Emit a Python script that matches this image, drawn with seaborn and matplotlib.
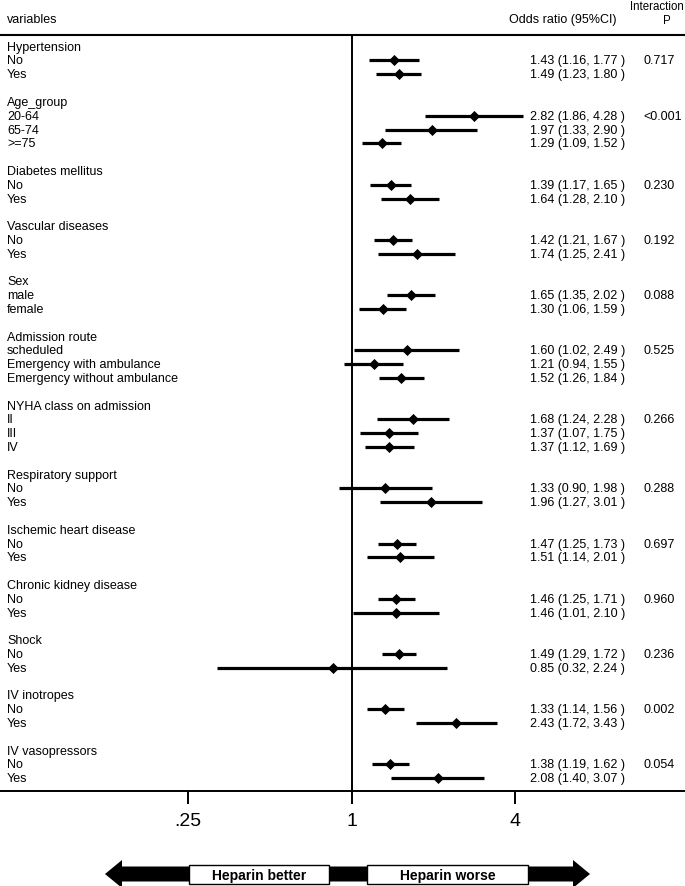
import numpy as np
import pandas as pd
import matplotlib.pyplot as plt
import seaborn as sns
from matplotlib import transforms
from matplotlib.patches import FancyArrow, Rectangle

# Datos del forest plot (subgrupos, OR e IC95%)
group_names = ['Hypertension', 'Age_group', 'Diabetes mellitus', 'Vascular diseases', 'Sex',
               'Admission route', 'NYHA class on admission', 'Respiratory support',
               'Ischemic heart disease', 'Chronic kidney disease', 'Shock', 'IV inotropes',
               'IV vasopressors']
level_names = [['No', 'Yes'], ['20-64', '65-74', '>=75'], ['No', 'Yes'], ['No', 'Yes'],
               ['male', 'female'],
               ['scheduled', 'Emergency with ambulance', 'Emergency without ambulance'],
               ['II', 'III', 'IV'], ['No', 'Yes'], ['No', 'Yes'], ['No', 'Yes'], ['No', 'Yes'],
               ['No', 'Yes'], ['No', 'Yes']]
odds_ratio = [[1.43, 1.49], [2.82, 1.97, 1.29], [1.39, 1.64], [1.42, 1.74], [1.65, 1.30],
              [1.60, 1.21, 1.52], [1.68, 1.37, 1.37], [1.33, 1.96], [1.47, 1.51], [1.46, 1.46],
              [1.49, 0.85], [1.33, 2.43], [1.38, 2.08]]
ci_low = [[1.16, 1.23], [1.86, 1.33, 1.09], [1.17, 1.28], [1.21, 1.25], [1.35, 1.06],
          [1.02, 0.94, 1.26], [1.24, 1.07, 1.12], [0.90, 1.27], [1.25, 1.14], [1.25, 1.01],
          [1.29, 0.32], [1.14, 1.72], [1.19, 1.40]]
ci_high = [[1.77, 1.80], [4.28, 2.90, 1.52], [1.65, 2.10], [1.67, 2.41], [2.02, 1.59],
           [2.49, 1.55, 1.84], [2.28, 1.75, 1.69], [1.98, 3.01], [1.73, 2.01], [1.71, 2.10],
           [1.72, 2.24], [1.56, 3.43], [1.62, 3.07]]
p_interaction = ['0.717', '<0.001', '0.230', '0.192', '0.088', '0.525', '0.266', '0.288',
                 '0.697', '0.960', '0.236', '0.002', '0.054']
x_ticks = [0.25, 1, 4]
x_tick_labels = ['.25', '1', '4']

# Construir tabla con una fila por nivel
rows = []
titles = []
r = 0
for g, name in enumerate(group_names):
    titles.append((r, name, p_interaction[g]))
    for k, lvl in enumerate(level_names[g]):
        rows.append({'row': r + 1 + k, 'level': lvl, 'or': odds_ratio[g][k],
                     'lo': ci_low[g][k], 'hi': ci_high[g][k]})
    r += len(level_names[g]) + 2
df = pd.DataFrame(rows)

sns.set_theme(style='white')
plt.rcParams['font.family'] = ['Liberation Sans', 'DejaVu Sans']
plt.rcParams['text.color'] = 'black'
plt.rcParams['xtick.color'] = 'black'

W, H = 685, 887
fig = plt.figure(figsize=(W / 100, H / 100), dpi=100)
ax = fig.add_axes([0, (H - 792) / H, 1, (792 - 35) / H])

# Intervalos de confianza y puntos
ax.hlines(df['row'], df['lo'], df['hi'], color='black', lw=2.3, zorder=2)
sns.scatterplot(data=df, x='or', y='row', marker='D', color='black', s=32,
                linewidth=0, ax=ax, zorder=3, legend=False)
ax.axvline(1, color='black', lw=1.4, zorder=1)

ax.set_xscale('log', base=2)
ax.set_xlim(2 ** (-351.7 / 81.7), 2 ** ((W - 351.7) / 81.7))
ax.set_ylim(53.93, -0.92)
ax.set_xticks(x_ticks)
ax.set_xticklabels(x_tick_labels, fontsize=14)
ax.minorticks_off()
ax.set_yticks([])
ax.set_xlabel('')
ax.set_ylabel('')
for s in ['top', 'left', 'right']:
    ax.spines[s].set_visible(False)
ax.spines['bottom'].set_color('black')
ax.spines['bottom'].set_linewidth(1.4)
ax.tick_params(axis='x', direction='out', length=9, width=1.4, color='black', pad=6,
               bottom=True, labelcolor='black')

# Columnas de texto
tr = transforms.blended_transform_factory(ax.transAxes, ax.transData)
fs = 9
for row, name, p in titles:
    ax.text(7 / W, row, name, transform=tr, ha='left', va='center', fontsize=fs)
    ax.text(643 / W, row + 1, p, transform=tr, ha='left', va='center', fontsize=fs)
for _, d in df.iterrows():
    ax.text(7 / W, d['row'], d['level'], transform=tr, ha='left', va='center', fontsize=fs)
    ax.text(530 / W, d['row'], f"{d['or']:.2f} ({d['lo']:.2f}, {d['hi']:.2f} )",
            transform=tr, ha='left', va='center', fontsize=fs)

# Encabezado y flechas (en coordenadas de pixel)
ov = fig.add_axes([0, 0, 1, 1])
ov.set_xlim(0, W)
ov.set_ylim(H, 0)
ov.axis('off')
ov.plot([0, W], [35.5, 35.5], color='black', lw=1.5)
ov.text(7, 20, 'variables', ha='left', va='center', fontsize=fs)
ov.text(563, 20, 'Odds ratio (95%CI)', ha='center', va='center', fontsize=fs)
ov.text(657, 7, 'Interaction', ha='center', va='center', fontsize=8.3)
ov.text(667, 21, 'P', ha='center', va='center', fontsize=8.3)

for x_end in [105, 590]:
    ov.add_patch(FancyArrow(352, 875, x_end - 352, 0, width=15, head_width=28,
                            head_length=17, length_includes_head=True,
                            color='black', lw=0))
for x0, x1, label in [(189, 329, 'Heparin better'), (367, 528, 'Heparin worse')]:
    ov.add_patch(Rectangle((x0, 866), x1 - x0, 19, facecolor='white',
                           edgecolor='black', lw=1))
    ov.text((x0 + x1) / 2, 876, label, ha='center', va='center', fontsize=10,
            fontweight='bold')

plt.savefig('out.png', dpi=100)
plt.close()
